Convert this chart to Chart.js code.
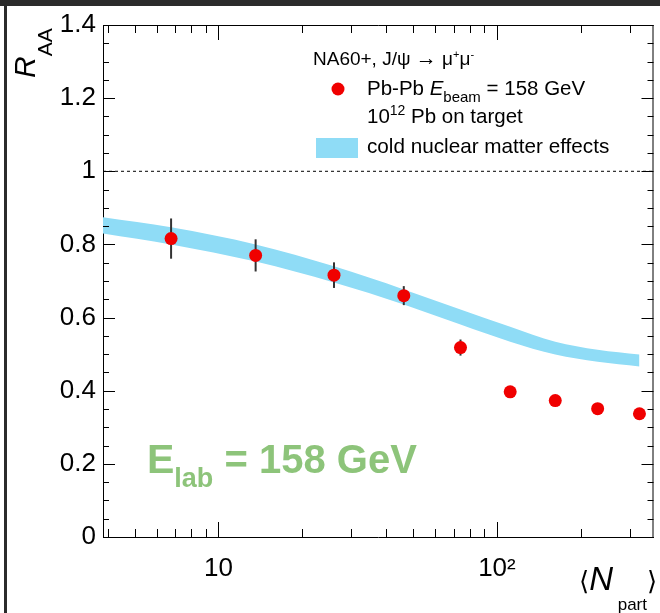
<!DOCTYPE html>
<html>
<head>
<meta charset="utf-8">
<script src="https://cdn.jsdelivr.net/npm/chart.js@4.4.1/dist/chart.umd.min.js"></script>
<style>
  html, body { margin: 0; padding: 0; background: #fff; }
</style>
</head>
<body>
<canvas id="myChart" width="660" height="613"></canvas>
<script>
// NA60+ projection, J/psi -> mu mu, Pb-Pb 158 GeV
const nPart = [6.76, 13.6, 26.0, 46.3, 74, 111.6, 162, 230, 325];
const rAA = [0.816, 0.770, 0.716, 0.660, 0.518, 0.397, 0.373, 0.351, 0.337];
const rAAErr = [0.055, 0.044, 0.035, 0.026, 0.022, 0.010, 0.008, 0.008, 0.008];

// cold nuclear matter band
const cnmX = [3.85, 6.76, 13.6, 26, 46.3, 74, 111.6, 162, 230, 325];
const cnmHigh = [0.874, 0.847, 0.800, 0.740, 0.677, 0.622, 0.575, 0.534, 0.512, 0.499];
const cnmLow = [0.830, 0.800, 0.753, 0.696, 0.636, 0.581, 0.534, 0.499, 0.479, 0.466];

const xTicks = [10, 100];
const xTickLabels = ['10', '10²'];
const yTicks = [0, 0.2, 0.4, 0.6, 0.8, 1, 1.2, 1.4];

const X_MIN = 3.85, X_MAX = 365;
const FONT = '"Liberation Sans", Arial, Helvetica, "DejaVu Sans", sans-serif';

// draw a run of text pieces with sub/superscripts
function drawRich(c, x, y, parts, color) {
  c.save();
  c.fillStyle = color || '#000';
  c.textBaseline = 'alphabetic';
  c.textAlign = 'left';
  for (const p of parts) {
    c.font = (p.style || '') + ' ' + p.size + 'px ' + FONT;
    c.fillText(p.t, x, y + (p.dy || 0));
    x += c.measureText(p.t).width;
  }
  c.restore();
}

const decor = {
  id: 'decor',
  beforeDraw(chart) {
    const c = chart.ctx;
    c.save();
    c.fillStyle = '#fff';
    c.fillRect(0, 0, chart.width, chart.height);
    c.fillStyle = '#2b2b2b';
    c.fillRect(0, 0, chart.width, 6);
    c.fillRect(4, 0, 3, chart.height);
    c.restore();
  },
  beforeDatasetDraw(chart, args) {
    if (args.index !== 3) return;
    const c = chart.ctx, xs = chart.scales.x, ys = chart.scales.y;
    c.save();
    c.strokeStyle = '#333';
    c.lineWidth = 2;
    nPart.forEach((n, i) => {
      const px = xs.getPixelForValue(n);
      c.beginPath();
      c.moveTo(px, ys.getPixelForValue(rAA[i] - rAAErr[i]));
      c.lineTo(px, ys.getPixelForValue(rAA[i] + rAAErr[i]));
      c.stroke();
    });
    c.restore();
  },
  afterDraw(chart) {
    const c = chart.ctx, a = chart.chartArea;
    const xs = chart.scales.x, ys = chart.scales.y;
    c.save();
    c.strokeStyle = '#000';
    c.lineWidth = 1;
    // top and right frame
    c.beginPath();
    c.moveTo(a.left, a.top + 0.5); c.lineTo(a.right, a.top + 0.5);
    c.moveTo(a.right - 0.5, a.top); c.lineTo(a.right - 0.5, a.bottom);
    c.stroke();
    // y ticks, both sides, pointing inwards
    c.beginPath();
    for (let k = 0; k <= 28; k++) {
      const v = k * 0.05;
      const py = Math.round(ys.getPixelForValue(v)) + 0.5;
      const len = k % 4 === 0 ? 12 : 6;
      c.moveTo(a.left, py); c.lineTo(a.left + len, py);
      c.moveTo(a.right, py); c.lineTo(a.right - len, py);
    }
    // x ticks, log decades
    for (let d = 1; d <= 100; d *= 10) {
      for (let m = 1; m <= 9; m++) {
        const v = m * d;
        if (v < X_MIN || v > X_MAX) continue;
        const px = Math.round(xs.getPixelForValue(v)) + 0.5;
        const len = m === 1 ? 15 : 8;
        c.moveTo(px, a.bottom); c.lineTo(px, a.bottom - len);
        c.moveTo(px, a.top); c.lineTo(px, a.top + len);
      }
    }
    c.stroke();
    c.restore();

    // axis titles
    c.save();
    c.translate(35, 78);
    c.rotate(-Math.PI / 2);
    drawRich(c, 0, 0, [
      { t: 'R', size: 30, style: 'italic' },
      { t: 'AA', size: 21, dy: 17 }
    ]);
    c.restore();
    drawRich(c, 579, 590, [
      { t: '⟨', size: 26 },
      { t: 'N', size: 33, style: 'italic' },
      { t: ' part', size: 17, dy: 20 },
      { t: '⟩', size: 26 }
    ]);

    // legend
    drawRich(c, 313, 65, [
      { t: 'NA60+, J/ψ ', size: 19 },
      { t: '→', size: 21 },
      { t: ' μ', size: 19 },
      { t: '+', size: 11, dy: -7 },
      { t: 'μ', size: 19 },
      { t: '-', size: 11, dy: -7 }
    ]);
    c.save();
    c.fillStyle = '#f00000';
    c.beginPath();
    c.arc(338, 89, 6.5, 0, Math.PI * 2);
    c.fill();
    c.fillStyle = '#8fdcf6';
    c.fillRect(316, 138, 42, 20);
    c.restore();
    drawRich(c, 367, 95, [
      { t: 'Pb-Pb ', size: 20.5 },
      { t: 'E', size: 20.5, style: 'italic' },
      { t: 'beam', size: 15, dy: 7 },
      { t: ' = 158 GeV', size: 20.5 }
    ]);
    drawRich(c, 367, 123, [
      { t: '10', size: 20.5 },
      { t: '12', size: 14, dy: -8 },
      { t: ' Pb on target', size: 20.5 }
    ]);
    drawRich(c, 367, 153, [{ t: 'cold nuclear matter effects', size: 20.7 }]);

    // energy annotation
    drawRich(c, 147, 473, [
      { t: 'E', size: 41, style: 'bold' },
      { t: 'lab', size: 27, style: 'bold', dy: 14 },
      { t: ' = 158 GeV', size: 40, style: 'bold' }
    ], '#8dc47a');
  }
};

const ctx = document.getElementById('myChart');
new Chart(ctx, {
  type: 'scatter',
  data: {
    datasets: [{
      label: 'cnm high',
      type: 'line',
      data: cnmX.map((x, i) => ({ x: x, y: cnmHigh[i] })),
      borderWidth: 0,
      pointRadius: 0,
      fill: false,
      cubicInterpolationMode: 'monotone',
      order: 3
    }, {
      label: 'cold nuclear matter effects',
      type: 'line',
      data: cnmX.map((x, i) => ({ x: x, y: cnmLow[i] })),
      borderWidth: 0,
      pointRadius: 0,
      fill: '-1',
      backgroundColor: '#8fdcf6',
      cubicInterpolationMode: 'monotone',
      order: 2
    }, {
      label: 'unity',
      type: 'line',
      data: [{ x: X_MIN, y: 1 }, { x: X_MAX, y: 1 }],
      borderColor: '#000',
      borderWidth: 1,
      borderDash: [3, 3],
      pointRadius: 0,
      order: 1
    }, {
      label: 'Pb-Pb',
      data: nPart.map((x, i) => ({ x: x, y: rAA[i] })),
      pointRadius: 6.5,
      pointHoverRadius: 6.5,
      backgroundColor: '#f00000',
      borderWidth: 0,
      order: 0
    }]
  },
  options: {
    responsive: false,
    animation: false,
    layout: { padding: { left: 0, top: 25, right: 2, bottom: 0 } },
    plugins: {
      legend: { display: false },
      tooltip: { enabled: false }
    },
    scales: {
      x: {
        type: 'logarithmic',
        min: X_MIN,
        max: X_MAX,
        afterBuildTicks: (scale) => { scale.ticks = xTicks.map(v => ({ value: v })); },
        afterFit: (scale) => { scale.height = 76; },
        ticks: {
          autoSkip: false,
          maxRotation: 0,
          padding: 16,
          color: '#000',
          font: { family: FONT, size: 26 },
          callback: (v) => xTickLabels[xTicks.indexOf(v)]
        },
        grid: { display: true, drawOnChartArea: false, drawTicks: false },
        border: { color: '#000', width: 1 }
      },
      y: {
        min: 0,
        max: 1.4,
        afterBuildTicks: (scale) => { scale.ticks = yTicks.map(v => ({ value: v })); },
        afterFit: (scale) => { scale.width = 103; },
        ticks: {
          padding: 7,
          color: '#000',
          font: { family: FONT, size: 26 },
          callback: (v) => String(v)
        },
        grid: { display: true, drawOnChartArea: false, drawTicks: false },
        border: { color: '#000', width: 1 }
      }
    }
  },
  plugins: [decor]
});
</script>
</body>
</html>
